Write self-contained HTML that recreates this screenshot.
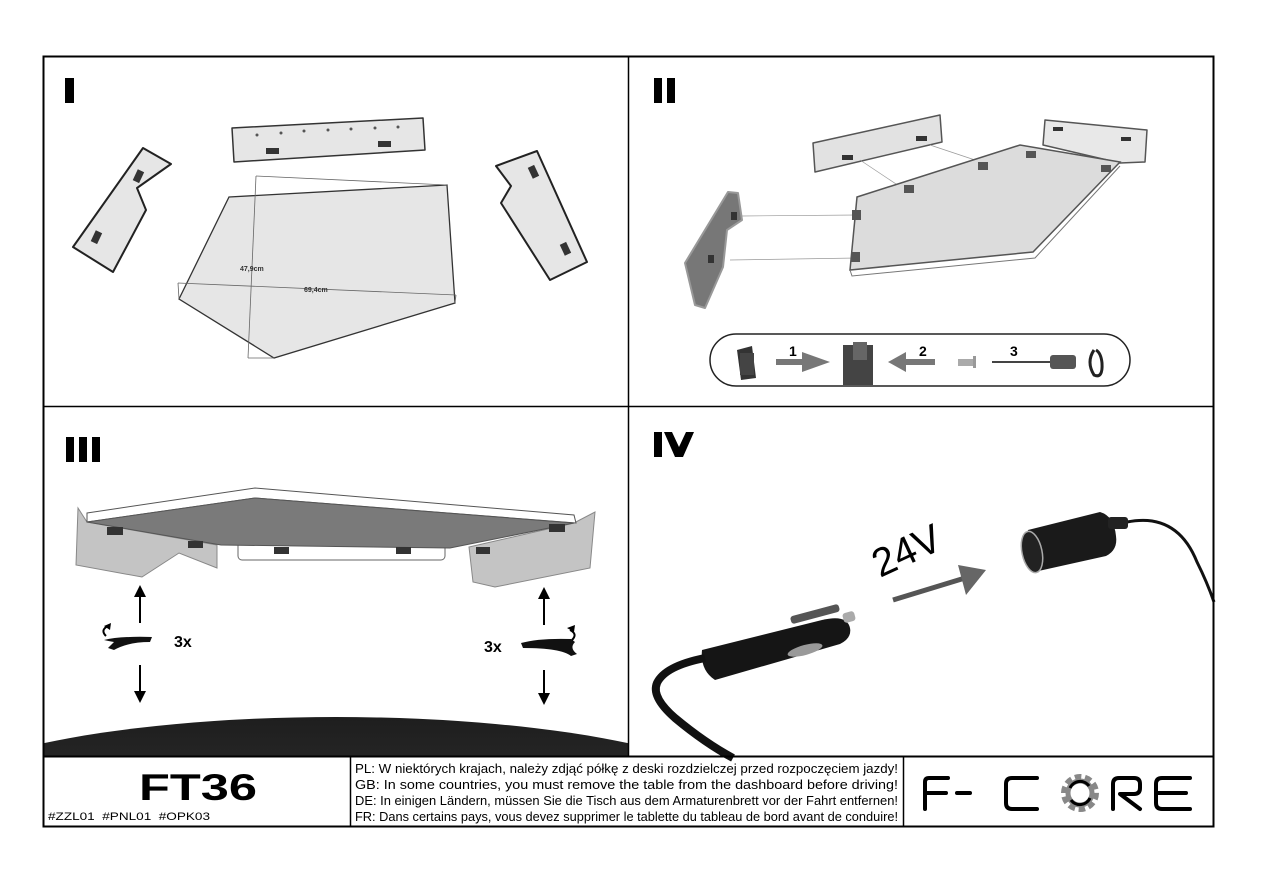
<!DOCTYPE html>
<html><head><meta charset="utf-8"><style>
html,body{margin:0;padding:0;background:#fff;width:1272px;height:889px;overflow:hidden}
svg{display:block}
text{font-family:"Liberation Sans",sans-serif}
</style></head><body>
<svg width="1272" height="889" viewBox="0 0 1272 889" xmlns="http://www.w3.org/2000/svg">
<defs>
<linearGradient id="dash" x1="0" y1="0" x2="0" y2="1"><stop offset="0" stop-color="#1e1e1e"/><stop offset="0.4" stop-color="#2a2a2a"/><stop offset="1" stop-color="#666"/></linearGradient>
<clipPath id="c3"><rect x="44" y="407" width="584" height="349"/></clipPath>
</defs>
<rect x="0" y="0" width="1272" height="889" fill="#fff"/>

<!-- Panel I -->
<rect x="65" y="78" width="9" height="25" fill="#000"/>
<polygon points="232,128 423,118 425,150 234,162" fill="#e6e6e6" stroke="#333" stroke-width="1.5" stroke-linejoin="round"/>
<g fill="#555"><circle cx="257" cy="135" r="1.5"/><circle cx="281" cy="133" r="1.5"/><circle cx="304" cy="131" r="1.5"/><circle cx="328" cy="130" r="1.5"/><circle cx="351" cy="129" r="1.5"/><circle cx="375" cy="128" r="1.5"/><circle cx="398" cy="127" r="1.5"/></g>
<rect x="266" y="148" width="13" height="6" fill="#333"/><rect x="378" y="141" width="13" height="6" fill="#333"/>
<polygon points="143,148 171,164 137,188 146,210 113,272 73,247" fill="#e6e6e6" stroke="#222" stroke-width="2" stroke-linejoin="round"/>
<rect x="135" y="170" width="7" height="12" fill="#333" transform="rotate(25 138 176)"/>
<rect x="93" y="231" width="7" height="12" fill="#333" transform="rotate(25 96 237)"/>
<polygon points="496,166 537,151 587,262 550,280 501,203 511,186" fill="#e6e6e6" stroke="#222" stroke-width="2" stroke-linejoin="round"/>
<rect x="530" y="166" width="7" height="12" fill="#333" transform="rotate(-25 533 172)"/>
<rect x="562" y="243" width="7" height="12" fill="#333" transform="rotate(-25 565 249)"/>
<polygon points="229,197 447,185 455,303 274,358 179,299" fill="#e6e6e6" stroke="#333" stroke-width="1.3"/>
<g stroke="#666" stroke-width="0.8" fill="none"><line x1="256" y1="176" x2="248" y2="358"/><line x1="256" y1="176" x2="447" y2="185"/><line x1="248" y1="358" x2="274" y2="358"/><line x1="178" y1="283" x2="456" y2="295"/><line x1="178" y1="283" x2="179" y2="299"/><line x1="456" y1="295" x2="455" y2="303"/></g>
<text x="240" y="271" font-size="7" font-weight="bold" fill="#333">47,9cm</text>
<text x="304" y="292" font-size="7" font-weight="bold" fill="#333">69,4cm</text>

<!-- Panel II -->
<rect x="654" y="78" width="8" height="25" fill="#000"/><rect x="667" y="78" width="8" height="25" fill="#000"/>
<polygon points="813,143 940,115 942,142 815,172" fill="#e2e2e2" stroke="#555" stroke-width="1.5" stroke-linejoin="round"/>
<rect x="842" y="155" width="11" height="5" fill="#333"/><rect x="916" y="136" width="11" height="5" fill="#333"/>
<polygon points="1045,120 1147,130 1145,162 1120,163 1043,145" fill="#e8e8e8" stroke="#555" stroke-width="1.5" stroke-linejoin="round"/>
<rect x="1053" y="127" width="10" height="4" fill="#333"/><rect x="1121" y="137" width="10" height="4" fill="#333"/>
<g stroke="#999" stroke-width="0.7"><line x1="860" y1="160" x2="905" y2="190"/><line x1="930" y1="145" x2="975" y2="160"/><line x1="742" y1="216" x2="857" y2="215"/><line x1="730" y1="260" x2="857" y2="258"/></g>
<polygon points="857,197 1020,145 1120,162 1033,252 850,270" fill="#dcdcdc" stroke="#555" stroke-width="1.5"/>
<polyline points="850,270 852,276 1035,258 1120,166" fill="none" stroke="#777" stroke-width="1"/>
<g fill="#555"><rect x="904" y="185" width="10" height="8"/><rect x="978" y="162" width="10" height="8"/><rect x="1026" y="151" width="10" height="7"/><rect x="1101" y="165" width="10" height="7"/><rect x="852" y="210" width="9" height="10"/><rect x="851" y="252" width="9" height="10"/></g>
<polygon points="728,192 738,193 742,220 727,230 723,267 705,308 695,305 685,263" fill="#777" stroke="#999" stroke-width="2" stroke-linejoin="round"/>
<rect x="731" y="212" width="6" height="8" fill="#333"/><rect x="708" y="255" width="6" height="8" fill="#333"/>
<!-- steps capsule -->
<rect x="710" y="334" width="420" height="52" rx="26" fill="#fff" stroke="#222" stroke-width="1.5"/>
<polygon points="737,350 752,346 756,378 741,380" fill="#333"/><rect x="740" y="353" width="14" height="22" fill="#444"/>
<rect x="776" y="359" width="28" height="6" fill="#777"/><polygon points="802,352 830,362 802,372" fill="#777"/>
<text x="789" y="356" font-size="14" font-weight="bold">1</text>
<path d="M843 345 h30 v40 h-30 z" fill="#444"/><rect x="853" y="342" width="14" height="18" fill="#666"/>
<polygon points="888,362 906,352 906,372" fill="#777"/><rect x="905" y="359" width="30" height="6" fill="#777"/>
<text x="919" y="356" font-size="14" font-weight="bold">2</text>
<rect x="958" y="359" width="16" height="7" fill="#aaa"/><rect x="973" y="356" width="3" height="12" fill="#999"/>
<line x1="992" y1="362" x2="1050" y2="362" stroke="#444" stroke-width="2"/><rect x="1050" y="355" width="26" height="14" rx="3" fill="#555"/>
<text x="1010" y="356" font-size="14" font-weight="bold">3</text>
<path d="M1094 350 q-8 12 0 25 q9 4 8 -12 q-1 -10 -6 -13" fill="none" stroke="#222" stroke-width="3"/>

<!-- Panel III -->
<g clip-path="url(#c3)">
<rect x="66" y="437" width="8" height="25" fill="#000"/><rect x="79" y="437" width="8" height="25" fill="#000"/><rect x="92" y="437" width="8" height="25" fill="#000"/>
<polygon points="78,508 76,565 142,577 179,553 217,568 217,545 87,522" fill="#c4c4c4" stroke="#888" stroke-width="1"/>
<polygon points="595,512 590,568 495,587 473,582 469,547 574,523" fill="#c4c4c4" stroke="#888" stroke-width="1"/>
<rect x="238" y="540" width="207" height="20" rx="4" fill="#fff" stroke="#666" stroke-width="1"/>
<polygon points="87,513 255,488 574,515 576,523 255,498 87,522" fill="#fff" stroke="#555" stroke-width="1"/>
<polygon points="87,522 255,498 574,523 450,548 221,545" fill="#7a7a7a" stroke="#555" stroke-width="1"/>
<g fill="#333"><rect x="107" y="527" width="16" height="8"/><rect x="188" y="541" width="15" height="7"/><rect x="274" y="547" width="15" height="7"/><rect x="396" y="547" width="15" height="7"/><rect x="476" y="547" width="14" height="7"/><rect x="549" y="524" width="16" height="8"/></g>
<line x1="140" y1="623" x2="140" y2="595" stroke="#000" stroke-width="2"/><polygon points="134,597 146,597 140,585" fill="#000"/>
<line x1="140" y1="665" x2="140" y2="693" stroke="#000" stroke-width="2"/><polygon points="134,691 146,691 140,703" fill="#000"/>
<path d="M104 640 q16 -4 48 -3 l-2 5 q-22 0 -36 8 l-6 -2 q4 -4 6 -6 q-6 -1 -10 -2 z" fill="#111"/>
<path d="M106 636 q-6 -6 2 -10" fill="none" stroke="#000" stroke-width="2"/><polygon points="104,626 111,623 110,630" fill="#000"/>
<text x="174" y="647" font-size="16" font-weight="bold">3x</text>
<line x1="544" y1="625" x2="544" y2="597" stroke="#000" stroke-width="2"/><polygon points="538,599 550,599 544,587" fill="#000"/>
<line x1="544" y1="670" x2="544" y2="695" stroke="#000" stroke-width="2"/><polygon points="538,693 550,693 544,705" fill="#000"/>
<path d="M521 643 q18 -5 50 -4 l4 3 q-6 6 2 12 l-6 2 q-10 -8 -48 -8 z" fill="#111"/>
<path d="M572 640 q6 -6 -2 -10" fill="none" stroke="#000" stroke-width="2"/><polygon points="567,628 575,625 574,632" fill="#000"/>
<text x="484" y="652" font-size="16" font-weight="bold">3x</text>
<ellipse cx="336" cy="810" rx="420" ry="93" fill="url(#dash)"/>
</g>

<!-- Panel IV -->
<rect x="654" y="432" width="8" height="25" fill="#000"/>
<polygon points="664,432 672,432 679,447 686,432 694,432 683,457 675,457" fill="#000"/>
<text x="0" y="0" font-size="40" fill="#000" transform="translate(880,578) rotate(-25)">24V</text>
<line x1="893" y1="600" x2="965" y2="578" stroke="#555" stroke-width="5"/>
<polygon points="958,565 986,570 966,595" fill="#666"/>
<path d="M1127 522 q50 -10 70 40 q10 20 17 40" fill="none" stroke="#111" stroke-width="3"/>
<path d="M1028 530 l72 -18 q14 4 16 24 q2 14 -10 20 l-72 16 q-12 -18 -6 -42 z" fill="#1a1a1a"/>
<ellipse cx="1032" cy="552" rx="10" ry="21" fill="#222" stroke="#aaa" stroke-width="1.5" transform="rotate(-12 1032 552)"/>
<rect x="1108" y="517" width="20" height="12" rx="3" fill="#222"/>
<path d="M702 650 l120 -30 q25 -6 28 8 q2 10 -10 16 l-125 36 q-15 -10 -13 -30 z" fill="#151515"/>
<rect x="790" y="610" width="50" height="8" rx="3" fill="#555" transform="rotate(-15 815 614)"/>
<ellipse cx="805" cy="650" rx="18" ry="5" fill="#999" transform="rotate(-15 805 650)"/>
<rect x="843" y="612" width="12" height="10" rx="3" fill="#aaa" transform="rotate(-15 849 617)"/>
<path d="M705 658 q-40 8 -48 25 q-6 14 18 35 q30 25 58 40" fill="none" stroke="#111" stroke-width="8"/>

<!-- frame -->
<rect x="43.5" y="56.5" width="1170" height="770" fill="none" stroke="#000" stroke-width="2"/>
<line x1="628.5" y1="56" x2="628.5" y2="756" stroke="#000" stroke-width="1.5"/>
<line x1="43" y1="406.5" x2="1214" y2="406.5" stroke="#000" stroke-width="1.5"/>
<line x1="43" y1="756.5" x2="1214" y2="756.5" stroke="#000" stroke-width="2"/>
<line x1="350.5" y1="756" x2="350.5" y2="826" stroke="#000" stroke-width="1.5"/>
<line x1="903.5" y1="756" x2="903.5" y2="826" stroke="#000" stroke-width="1.5"/>

<!-- bottom -->
<text x="198" y="800" font-size="37" font-weight="bold" text-anchor="middle" textLength="118" lengthAdjust="spacingAndGlyphs">FT36</text>
<text x="48" y="820" font-size="11" textLength="162" lengthAdjust="spacingAndGlyphs">#ZZL01 &#160;#PNL01 &#160;#OPK03</text>
<g font-size="12.5">
<text x="355" y="773" textLength="543" lengthAdjust="spacingAndGlyphs">PL: W niektórych krajach, należy zdjąć półkę z deski rozdzielczej przed rozpoczęciem jazdy!</text>
<text x="355" y="789" textLength="543" lengthAdjust="spacingAndGlyphs">GB: In some countries, you must remove the table from the dashboard before driving!</text>
<text x="355" y="805" textLength="543" lengthAdjust="spacingAndGlyphs">DE: In einigen Ländern, müssen Sie die Tisch aus dem Armaturenbrett vor der Fahrt entfernen!</text>
<text x="355" y="821" textLength="543" lengthAdjust="spacingAndGlyphs">FR: Dans certains pays, vous devez supprimer le tablette du tableau de bord avant de conduire!</text>
</g>
<g fill="none" stroke="#000" stroke-width="4" stroke-linecap="round" stroke-linejoin="round">
<path d="M925 809 V782 q0 -4 4 -4 H948 M925 793 H946"/>
<path d="M957 793 H970"/>
<path d="M1037 778 H1012 q-6 0 -6 6 V803 q0 6 6 6 H1037"/>
<path d="M1113 809 V784 q0 -6 6 -6 H1134 q6 0 6 6 V788 q0 6 -6 6 H1120 L1140 809"/>
<path d="M1190 778 H1162 q-6 0 -6 6 V803 q0 6 6 6 H1190 M1158 793 H1186"/>
</g>
<circle cx="1080" cy="793" r="15" fill="none" stroke="#888" stroke-width="8" stroke-dasharray="6 3.4"/>
<circle cx="1080" cy="793" r="12" fill="none" stroke="#888" stroke-width="5"/>
<path d="M1070 788 a11 11 0 0 1 19 -2" fill="none" stroke="#000" stroke-width="3"/>
<path d="M1090 798 a11 11 0 0 1 -19 2" fill="none" stroke="#000" stroke-width="3"/>
</svg>
</body></html>
